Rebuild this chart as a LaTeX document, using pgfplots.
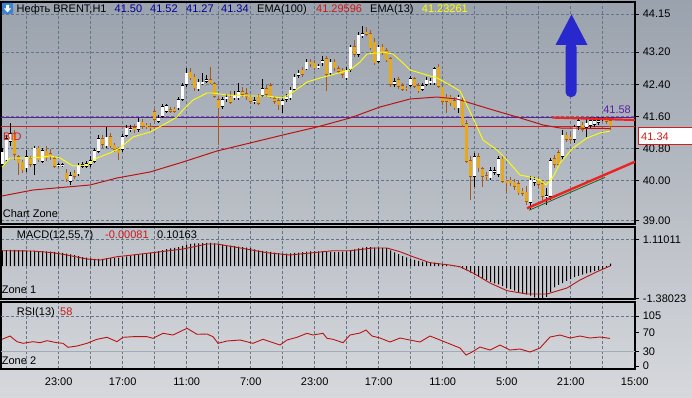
\documentclass[border=0pt]{standalone}
\usepackage{fontspec}
\setmainfont{Liberation Sans}
\usepackage{pgfplots}
\usepackage{pgfplotstable}
\pgfplotsset{compat=1.18}
\definecolor{bgtop}{RGB}{154,162,173}
\definecolor{bgbot}{RGB}{214,216,220}
\definecolor{gridc}{RGB}{100,116,138}
\definecolor{bearfill}{RGB}{232,168,28}
\definecolor{bearedge}{RGB}{165,90,25}
\definecolor{emared}{RGB}{185,20,20}
\definecolor{emayel}{RGB}{255,255,0}
\definecolor{hdrblue}{RGB}{0,0,150}
\definecolor{valred}{RGB}{205,25,25}
\definecolor{purp}{RGB}{95,30,165}
\definecolor{bidred}{RGB}{210,30,30}
\definecolor{arrowblue}{RGB}{40,40,205}
\definecolor{trendred}{RGB}{235,35,35}
\definecolor{trendgreen}{RGB}{25,100,25}
\definecolor{iconblue}{RGB}{60,130,210}

\pgfplotstableread{
i o h l c
0 40.39 40.80 40.35 40.72
1 40.51 41.14 40.47 41.05
2 40.97 41.44 40.85 41.18
3 41.18 41.26 40.51 40.64
4 40.60 40.64 40.14 40.43
5 40.47 40.51 40.20 40.26
6 40.31 40.76 40.22 40.60
7 40.55 40.61 40.35 40.39
8 40.39 40.85 40.14 40.82
9 40.82 40.86 40.47 40.51
10 40.47 40.80 40.43 40.76
11 40.74 40.85 40.50 40.55
12 40.68 40.78 40.51 40.60
13 40.55 40.61 40.31 40.35
14 40.36 40.45 40.33 40.41
15 40.39 40.45 40.35 40.40
16 40.20 40.28 39.97 40.03
17 39.97 40.22 39.89 40.14
18 40.20 40.26 40.03 40.10
19 40.16 40.45 40.11 40.39
20 40.35 40.47 40.31 40.41
21 40.35 40.50 40.31 40.43
22 40.39 40.60 40.35 40.51
23 40.47 40.80 40.45 40.76
24 40.72 41.14 40.68 41.05
25 41.05 41.14 40.80 40.89
26 40.85 41.34 40.80 41.09
27 41.11 41.18 40.80 40.85
28 40.89 40.93 40.72 40.76
29 40.78 40.83 40.51 40.68
30 40.76 41.16 40.72 41.11
31 41.11 41.39 41.08 41.32
32 41.26 41.39 41.22 41.30
33 41.33 41.41 41.19 41.26
34 41.26 41.55 41.22 41.47
35 41.47 41.53 41.29 41.34
36 41.39 41.44 41.28 41.33
37 41.36 41.43 41.24 41.30
38 41.73 41.78 41.47 41.51
39 41.47 41.63 41.43 41.57
40 41.59 41.91 41.55 41.86
41 41.72 41.91 41.68 41.88
42 41.78 41.84 41.68 41.72
43 41.79 41.84 41.69 41.72
44 41.80 42.09 41.76 42.02
45 42.01 42.42 41.99 42.38
46 42.38 42.80 42.34 42.69
47 42.71 42.80 42.51 42.55
48 42.59 42.66 42.22 42.30
49 42.27 42.52 42.22 42.46
50 42.42 42.67 42.38 42.46
51 42.46 42.63 42.42 42.53
52 42.52 42.84 42.41 42.42
53 42.42 42.46 42.05 42.09
54 42.02 42.09 40.89 41.80
55 41.84 42.09 41.78 42.02
56 42.02 42.16 41.97 42.09
57 42.09 42.22 41.92 41.94
58 42.05 42.22 42.01 42.13
59 42.05 42.42 42.01 42.22
60 42.22 42.34 42.07 42.13
61 42.17 42.30 42.01 42.09
62 42.09 42.13 41.92 41.97
63 41.97 42.07 41.91 42.01
64 42.09 42.16 41.88 41.92
65 42.11 42.52 42.09 42.30
66 42.30 42.38 42.09 42.13
67 42.38 42.42 42.05 42.09
68 42.05 42.11 41.92 41.97
69 42.01 42.05 41.76 41.88
70 41.88 42.05 41.68 42.01
71 42.01 42.16 41.97 42.09
72 42.05 42.32 42.01 42.26
73 42.26 42.66 42.22 42.59
74 42.61 42.76 42.55 42.69
75 42.76 42.82 42.59 42.63
76 42.77 43.02 42.76 42.96
77 42.96 43.02 42.84 42.90
78 42.94 43.00 42.76 42.80
79 42.83 42.90 42.77 42.85
80 42.92 43.10 42.86 43.00
81 43.05 43.10 42.22 42.63
82 42.67 43.02 42.63 42.96
83 42.96 43.02 42.74 42.80
84 42.80 42.86 42.67 42.71
85 42.76 42.80 42.55 42.63
86 42.55 42.84 42.51 42.76
87 42.76 43.38 42.71 43.34
88 43.35 43.50 43.09 43.13
89 43.13 43.69 43.09 43.63
90 43.59 43.85 43.54 43.67
91 43.71 43.83 43.59 43.63
92 43.67 43.75 43.25 43.30
93 43.46 43.54 42.88 42.92
94 42.96 43.38 42.92 43.34
95 43.34 43.40 43.13 43.17
96 43.25 43.30 42.96 43.00
97 43.05 43.09 42.34 42.38
98 42.38 42.55 42.34 42.48
99 42.52 42.57 42.27 42.34
100 42.38 42.42 42.22 42.26
101 42.30 42.36 42.24 42.29
102 42.36 42.61 42.34 42.55
103 42.55 42.59 42.30 42.34
104 42.38 42.44 42.19 42.22
105 42.26 42.44 42.22 42.38
106 42.38 42.57 42.36 42.51
107 42.46 42.55 42.38 42.47
108 42.42 42.84 42.38 42.80
109 42.84 42.90 42.30 42.34
110 42.34 42.38 41.88 41.97
111 42.09 42.16 41.68 41.97
112 42.09 42.13 41.86 41.93
113 42.01 42.07 41.76 41.80
114 41.80 42.13 41.68 42.09
115 42.01 42.05 41.34 41.38
116 41.43 41.51 40.43 40.47
117 40.51 40.60 39.52 40.10
118 40.10 40.68 39.85 40.60
119 40.60 40.68 40.22 40.31
120 40.31 40.35 39.85 40.10
121 40.14 40.22 40.02 40.10
122 40.06 40.35 40.02 40.26
123 40.20 40.33 40.14 40.26
124 40.14 40.61 40.10 40.55
125 40.55 40.61 39.93 39.97
126 39.98 40.02 39.68 39.97
127 40.02 40.08 39.87 39.93
128 39.97 40.03 39.77 39.85
129 39.93 40.00 39.64 39.68
130 39.75 39.81 39.62 39.67
131 39.72 39.87 39.39 39.47
132 39.44 40.11 39.27 40.02
133 39.94 40.09 39.87 40.02
134 40.02 40.06 39.82 39.89
135 39.94 40.02 39.52 39.59
136 39.60 39.82 39.39 39.62
137 39.59 40.56 39.52 40.51
138 40.56 40.64 40.31 40.39
139 40.71 40.76 40.34 40.39
140 40.59 41.26 40.51 41.14
141 41.14 41.21 40.96 41.01
142 41.09 41.16 40.94 41.01
143 41.01 41.39 40.94 41.34
144 41.34 41.56 41.26 41.51
145 41.39 41.46 41.21 41.26
146 41.31 41.56 41.09 41.44
147 41.36 41.58 41.31 41.51
148 41.39 41.58 41.34 41.51
149 41.44 41.58 41.39 41.51
150 41.53 41.58 41.48 41.54
151 41.56 41.61 41.41 41.46
152 41.50 41.52 41.27 41.34
}\candles

\pgfplotstableread{
x p
2 40.338
10 40.563
17 40.563
33 40.563
50 40.612
60 40.563
73 40.363
87 40.388
97 40.563
110 40.687
120 40.812
133 41.086
150 41.210
163 41.385
177 41.584
183 41.759
193 42.007
207 42.182
213 42.182
227 42.132
247 42.107
267 42.107
283 42.057
293 42.207
307 42.456
320 42.556
335 42.655
350 42.755
360 42.954
367 43.153
383 43.203
393 43.153
403 42.929
410 42.755
437 42.556
450 42.381
460 42.232
473 41.559
483 41.011
497 40.762
507 40.513
520 40.139
530 40.089
540 40.014
546 39.890
553 40.089
560 40.438
573 40.812
587 41.061
600 41.186
610 41.233
}\emathirteen

\pgfplotstableread{
x p
2 39.616
33 39.765
67 39.840
90 39.890
117 40.064
150 40.214
183 40.463
217 40.737
250 40.936
283 41.136
317 41.335
350 41.559
380 41.833
410 42.032
437 42.082
457 42.032
470 41.933
493 41.758
517 41.584
543 41.385
560 41.310
610 41.296
}\emahundred

\pgfplotstableread{
i m
0 0.66
1 0.67
2 0.68
3 0.68
4 0.67
5 0.66
6 0.65
7 0.64
8 0.64
9 0.63
10 0.63
11 0.62
12 0.61
13 0.60
14 0.58
15 0.55
16 0.52
17 0.49
18 0.46
19 0.42
20 0.38
21 0.35
22 0.32
23 0.30
24 0.30
25 0.30
26 0.32
27 0.33
28 0.34
29 0.35
30 0.38
31 0.41
32 0.44
33 0.47
34 0.50
35 0.52
36 0.54
37 0.56
38 0.60
39 0.63
40 0.67
41 0.71
42 0.74
43 0.77
44 0.80
45 0.85
46 0.90
47 0.93
48 0.95
49 0.96
50 0.97
51 0.98
52 0.98
53 0.96
54 0.92
55 0.90
56 0.88
57 0.86
58 0.84
59 0.82
60 0.80
61 0.78
62 0.75
63 0.70
64 0.66
65 0.64
66 0.62
67 0.60
68 0.56
69 0.54
70 0.52
71 0.52
72 0.53
73 0.55
74 0.57
75 0.59
76 0.61
77 0.62
78 0.62
79 0.62
80 0.62
81 0.60
82 0.60
83 0.60
84 0.60
85 0.61
86 0.62
87 0.66
88 0.70
89 0.74
90 0.78
91 0.80
92 0.80
93 0.78
94 0.78
95 0.77
96 0.75
97 0.66
98 0.58
99 0.50
100 0.42
101 0.36
102 0.30
103 0.26
104 0.22
105 0.19
106 0.17
107 0.15
108 0.14
109 0.12
110 0.08
111 0.05
112 0.02
113 -0.02
114 -0.05
115 -0.10
116 -0.18
117 -0.28
118 -0.36
119 -0.44
120 -0.52
121 -0.60
122 -0.67
123 -0.73
124 -0.78
125 -0.85
126 -0.92
127 -0.98
128 -1.04
129 -1.10
130 -1.15
131 -1.20
132 -1.25
133 -1.32
134 -1.36
135 -1.38
136 -1.30
137 -1.10
138 -0.90
139 -0.80
140 -0.72
141 -0.63
142 -0.55
143 -0.47
144 -0.42
145 -0.36
146 -0.31
147 -0.27
148 -0.22
149 -0.18
150 -0.13
151 -0.08
152 0.10
}\macd

\pgfplotstableread{
x v
2 0.646
33 0.633
53 0.561
67 0.464
87 0.295
100 0.253
117 0.392
150 0.549
183 0.717
207 0.928
217 0.928
233 0.814
267 0.561
290 0.464
307 0.536
333 0.646
350 0.646
373 0.759
387 0.759
400 0.603
413 0.392
430 0.139
450 0.042
460 -0.030
473 -0.295
490 -0.717
507 -1.042
527 -1.181
547 -1.181
567 -0.928
580 -0.591
597 -0.241
610 -0.001
}\signal

\pgfplotstableread{
x r
2 56.1
10 63.0
17 51.1
23 47.7
33 51.1
40 48.9
47 53.2
57 48.9
63 47.7
68 39.3
77 42.0
87 47.7
97 56.1
107 60.3
117 51.1
123 60.3
133 61.6
147 61.6
153 58.2
163 68.7
173 65.1
180 72.1
187 79.2
197 66.6
207 67.2
213 61.6
218 47.7
227 52.5
240 54.6
253 47.7
263 56.1
270 51.1
280 44.1
287 54.6
297 60.3
307 68.7
313 65.1
323 68.7
327 58.2
333 56.1
343 48.9
350 65.1
360 69.3
366 75.6
372 63.0
380 58.8
390 50.4
400 58.8
410 54.6
420 50.4
430 63.0
440 54.6
450 46.2
460 37.8
466 23.1
472 29.4
480 39.9
490 33.6
500 44.1
510 33.6
520 35.7
530 29.4
540 37.8
550 60.9
560 65.1
570 58.8
580 63.0
590 58.8
600 60.9
610 58.0
}\rsi

\pgfplotsset{
  panel/.style={
    scale only axis, anchor=south west, width=634pt,
    xmin=1, xmax=635,
    axis line style={black, line width=1.4pt},
    tick align=outside, major tick length=4pt,
    ytick pos=right, yticklabel pos=right,
    ytick style={black, line width=0.8pt},
    xtick style={draw=none}, minor tick length=0pt,
    tick label style={font=\fontsize{11}{13}\selectfont, text=black},
    major grid style={gridc, dash pattern=on 3pt off 2pt, line width=0.6pt},
    minor grid style={gridc, dash pattern=on 3pt off 2pt, line width=0.6pt},
    xtick={58.7,122.7,186.7,250.7,314.7,378.7,442.7,506.7,570.7,634.7},
    minor xtick={26.7,90.7,154.7,218.7,282.7,346.7,410.7,474.7,538.7,602.7},
    xmajorgrids, xminorgrids,
  },
  candlepart/.style 2 args={draw=none, mark=none, forget plot,
    error bars/.cd, y dir=both, y explicit, error mark=none,
    error bar style={draw=#1, line width=#2, solid}},
}

\begin{document}
\fontsize{11}{13}\selectfont
\begin{tikzpicture}[x=1pt,y=1pt]
\shade[top color=bgtop, bottom color=bgbot] (0,0) rectangle (692,397);
\useasboundingbox (0,0) rectangle (692,397);

% ---------------- main chart ----------------
\begin{axis}[panel, at={(1pt,173pt)}, height=222pt,
  ymin=38.918, ymax=44.449,
  xticklabels={},
  ytick={39,40,40.8,41.6,42.4,43.2,44.15},
  yticklabels={39.00,40.00,40.80,41.60,42.40,43.20,44.15},
  ymajorgrids]
% horizontal price lines
\addplot[purp, line width=1pt] coordinates {(1,41.58) (635,41.58)};
\addplot[bidred, line width=1pt] coordinates {(1,41.34) (635,41.34)};
% wicks
\addplot[candlepart={black}{1pt}] table[x expr=2.5+4*\thisrow{i},
  y expr={\thisrow{c}>=\thisrow{o} ? (\thisrow{h}+\thisrow{l})/2 : nan},
  y error expr={(\thisrow{h}-\thisrow{l})/2}] {\candles};
\addplot[candlepart={bearedge}{1pt}] table[x expr=2.5+4*\thisrow{i},
  y expr={\thisrow{c}<\thisrow{o} ? (\thisrow{h}+\thisrow{l})/2 : nan},
  y error expr={(\thisrow{h}-\thisrow{l})/2}] {\candles};
% bodies outline
\addplot[candlepart={black}{3.6pt}] table[x expr=2.5+4*\thisrow{i},
  y expr={\thisrow{c}>=\thisrow{o} ? (\thisrow{o}+\thisrow{c})/2 : nan},
  y error expr={max(abs(\thisrow{c}-\thisrow{o})/2,0.02)}] {\candles};
\addplot[candlepart={bearedge}{3.6pt}] table[x expr=2.5+4*\thisrow{i},
  y expr={\thisrow{c}<\thisrow{o} ? (\thisrow{o}+\thisrow{c})/2 : nan},
  y error expr={max(abs(\thisrow{c}-\thisrow{o})/2,0.02)}] {\candles};
% bodies fill
\addplot[candlepart={white}{2.2pt}] table[x expr=2.5+4*\thisrow{i},
  y expr={\thisrow{c}>=\thisrow{o} ? (\thisrow{o}+\thisrow{c})/2 : nan},
  y error expr={max(abs(\thisrow{c}-\thisrow{o})/2,0.02)-0.015}] {\candles};
\addplot[candlepart={bearfill}{2.2pt}] table[x expr=2.5+4*\thisrow{i},
  y expr={\thisrow{c}<\thisrow{o} ? (\thisrow{o}+\thisrow{c})/2 : nan},
  y error expr={max(abs(\thisrow{c}-\thisrow{o})/2,0.02)-0.015}] {\candles};
% moving averages
\addplot[emared, line width=1pt] table[x=x, y=p] {\emahundred};
\addplot[emayel, line width=0.9pt] table[x=x, y=p] {\emathirteen};
% trend lines
\addplot[trendgreen, line width=0.8pt] coordinates {(529,39.26) (605,40.08)};
\addplot[trendred, line width=2.4pt] coordinates {(527,39.31) (635,40.47)};
\addplot[trendred, line width=2.2pt] coordinates {(552,41.57) (635,41.51)};
% arrow
\fill[arrowblue, rounded corners=5pt] (axis cs:565.5,43.45) rectangle (axis cs:576.5,42.08);
\fill[arrowblue] (axis cs:571.5,44.14) -- (axis cs:587.5,43.378) -- (axis cs:555.5,43.378) -- cycle;
\end{axis}

% ---------------- MACD ----------------
\begin{axis}[panel, at={(1pt,98pt)}, height=72pt,
  ymin=-1.392, ymax=1.646,
  xticklabels={},
  ytick={-1.38023,1.11011},
  yticklabels={-1.38023,1.11011},
  ymajorgrids]
\addplot[ybar, bar width=1pt, fill=black, draw=none] table[x expr=2.5+4*\thisrow{i}, y=m] {\macd};
\addplot[emared, line width=0.9pt] table[x=x, y=v] {\signal};
\end{axis}

% ---------------- RSI ----------------
\begin{axis}[panel, at={(1pt,28pt)}, height=67pt,
  ymin=-6.3, ymax=134.45,
  xticklabels={23:00,17:00,11:00,7:00,23:00,17:00,11:00,5:00,21:00,15:00},
  xticklabel style={anchor=base, yshift=-12pt},
  ytick={0,30,70,105},
  yticklabels={0,30,70,105}]
\draw[gridc, dash pattern=on 3pt off 2pt, line width=0.6pt] (axis cs:1,105) -- (axis cs:635,105);
\draw[gridc!60!white, line width=0.6pt] (axis cs:1,30) -- (axis cs:635,30);
\addplot[emared, line width=0.9pt] table[x=x, y=r] {\rsi};
\end{axis}

% ---------------- texts ----------------
\fill[iconblue, rounded corners=1pt] (2,383) rectangle (13,394);
\fill[white] (6,392) -- (9,392) -- (9,388.5) -- (11,388.5) -- (7.5,384.5) -- (4,388.5) -- (6,388.5) -- cycle;
\node[anchor=base west, inner sep=0] at (16.5,384.3) {Нефть BRENT,H1};
\node[anchor=base west, inner sep=0, text=hdrblue] at (114.5,384.3) {41.50};
\node[anchor=base west, inner sep=0, text=hdrblue] at (150,384.3) {41.52};
\node[anchor=base west, inner sep=0, text=hdrblue] at (186,384.3) {41.27};
\node[anchor=base west, inner sep=0, text=hdrblue] at (221,384.3) {41.34};
\node[anchor=base west, inner sep=0] at (257,384.3) {EMA(100)};
\node[anchor=base west, inner sep=0, text=valred] at (316,384.3) {41.29596};
\node[anchor=base west, inner sep=0] at (370,384.3) {EMA(13)};
\node[anchor=base west, inner sep=0, text=emayel] at (421.7,384.3) {41.23261};

\node[anchor=base west, inner sep=0, text=bidred] at (3,256.5) {BID};
\node[anchor=base east, inner sep=0, text=purp] at (631,283.3) {41.58};
\node[anchor=base west, inner sep=0] at (2.7,179.3) {Chart Zone};
\node[draw=bidred, fill=white, line width=0.8pt, minimum width=55pt, minimum height=17pt, inner sep=0, anchor=north west] (bx) at (637.5,270) {};
\node[anchor=base west, inner sep=0, text=bidred] at (641,256.5) {41.34};

\node[anchor=base west, inner sep=0] at (16.7,158.7) {MACD(12,55,7)};
\node[anchor=base west, inner sep=0, text=valred] at (105,158.7) {-0.00081};
\node[anchor=base west, inner sep=0] at (157,158.7) {0.10163};
\node[anchor=base west, inner sep=0] at (1.7,103.7) {Zone 1};

\node[anchor=base west, inner sep=0] at (16.7,82) {RSI(13)};
\node[anchor=base west, inner sep=0, text=valred] at (60,82) {58};
\node[anchor=base west, inner sep=0] at (1.7,32.7) {Zone 2};
\end{tikzpicture}
\end{document}
